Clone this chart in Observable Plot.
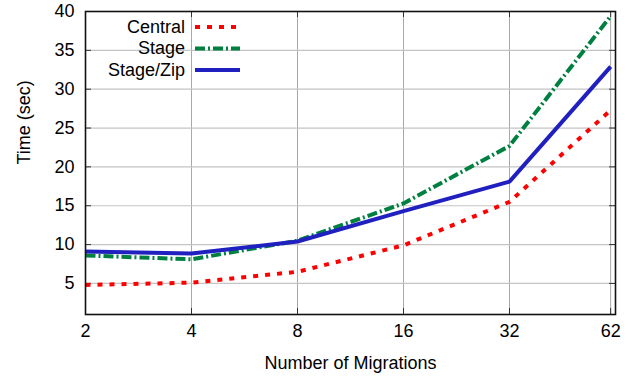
<!DOCTYPE html>
<html><head><meta charset="utf-8">
<script src="https://cdn.jsdelivr.net/npm/d3@7"></script>
<script src="https://cdn.jsdelivr.net/npm/@observablehq/plot@0.6"></script>
<style>
body{margin:0;background:#fff}
#chart svg{font-family:"Liberation Sans",Arial,sans-serif;background:#fff}
</style>
</head><body><div id="chart"></div>
<script>
const migrations = [2, 4, 8, 16, 32, 62];
const central = [4.8, 5.1, 6.5, 9.9, 15.5, 27.3];
const stage = [8.6, 8.1, 10.5, 15.3, 22.7, 39.4];
const stageZip = [9.1, 8.85, 10.4, 14.3, 18.1, 32.9];
const seriesNames = ["Central", "Stage", "Stage/Zip"];
const seriesColors = ["#ff0000", "#008040", "#2020c0"];
const seriesDash = ["5,7", "10,3,2,3", null];
const xTicks = [2, 4, 8, 16, 32, 62];
const yTicks = [5, 10, 15, 20, 25, 30, 35, 40];
const xLabel = "Number of Migrations";
const yLabel = "Time (sec)";

const seriesValues = [central, stage, stageZip];
const rows = seriesNames.map((s, i) => migrations.map((m, j) => ({series: s, x: m, y: seriesValues[i][j]})));

const W = 642, H = 384;
const mL = 85, mR = 27, mT = 11, mB = 70;
const frameH = H - mT - mB, frameW = W - mL - mR;
const tick = 6;
const fs = 18;

function legend(index, scales, values, dim) {
  const g = d3.create("svg:g");
  const ex = dim.marginLeft + 100, sx0 = dim.marginLeft + 110, sx1 = dim.marginLeft + 155;
  seriesNames.forEach((s, i) => {
    const yy = dim.marginTop + 16 + i * 21.5;
    g.append("text").attr("x", ex).attr("y", yy).attr("dy", "0.32em")
      .attr("text-anchor", "end").attr("font-size", fs).attr("fill", "#000").text(s);
    const l = g.append("line").attr("x1", sx0).attr("x2", sx1).attr("y1", yy).attr("y2", yy)
      .attr("stroke", seriesColors[i]).attr("stroke-width", 4);
    if (seriesDash[i]) l.attr("stroke-dasharray", seriesDash[i]);
  });
  return g.node();
}

const chart = Plot.plot({
  width: W, height: H,
  marginLeft: mL, marginRight: mR, marginTop: mT, marginBottom: mB,
  style: {fontFamily: '"Liberation Sans", Arial, sans-serif', fontSize: fs + "px", background: "#fff"},
  x: {type: "log", base: 2, domain: [2, 64], axis: null},
  y: {domain: [1, 40], axis: null},
  marks: [
    Plot.gridX(xTicks, {stroke: "#a8a8a8", strokeOpacity: 1, strokeWidth: 1}),
    Plot.gridY(yTicks, {stroke: "#c4c4c4", strokeOpacity: 1, strokeWidth: 1.2}),
    Plot.ruleX(xTicks, {x: d => d, stroke: "#333", insetTop: frameH - tick}),
    Plot.ruleX(xTicks, {x: d => d, stroke: "#333", insetBottom: frameH - tick}),
    Plot.ruleY(yTicks, {y: d => d, stroke: "#333", insetRight: frameW - tick}),
    Plot.ruleY(yTicks, {y: d => d, stroke: "#333", insetLeft: frameW - tick}),
    ...rows.map((r, i) => Plot.line(r, {
      x: "x", y: "y", stroke: seriesColors[i], strokeWidth: 4,
      strokeDasharray: seriesDash[i] || undefined, strokeLinejoin: "miter", strokeLinecap: "butt"
    })),
    Plot.frame({stroke: "#111", strokeWidth: 1.6}),
    Plot.text(xTicks, {x: d => d, text: d => String(d), frameAnchor: "bottom", dy: 22, fill: "#000", fontSize: fs}),
    Plot.text(yTicks, {y: d => d, text: d => String(d), frameAnchor: "left", dx: -11, textAnchor: "end", fill: "#000", fontSize: fs}),
    Plot.text([xLabel], {text: d => d, frameAnchor: "bottom", dx: 0, dy: 54, fill: "#000", fontSize: fs}),
    Plot.text([yLabel], {text: d => d, frameAnchor: "left", rotate: -90, dx: -61, dy: 1.5, fill: "#000", fontSize: fs}),
    legend
  ]
});
document.getElementById("chart").appendChild(chart);
</script>
</body></html>
